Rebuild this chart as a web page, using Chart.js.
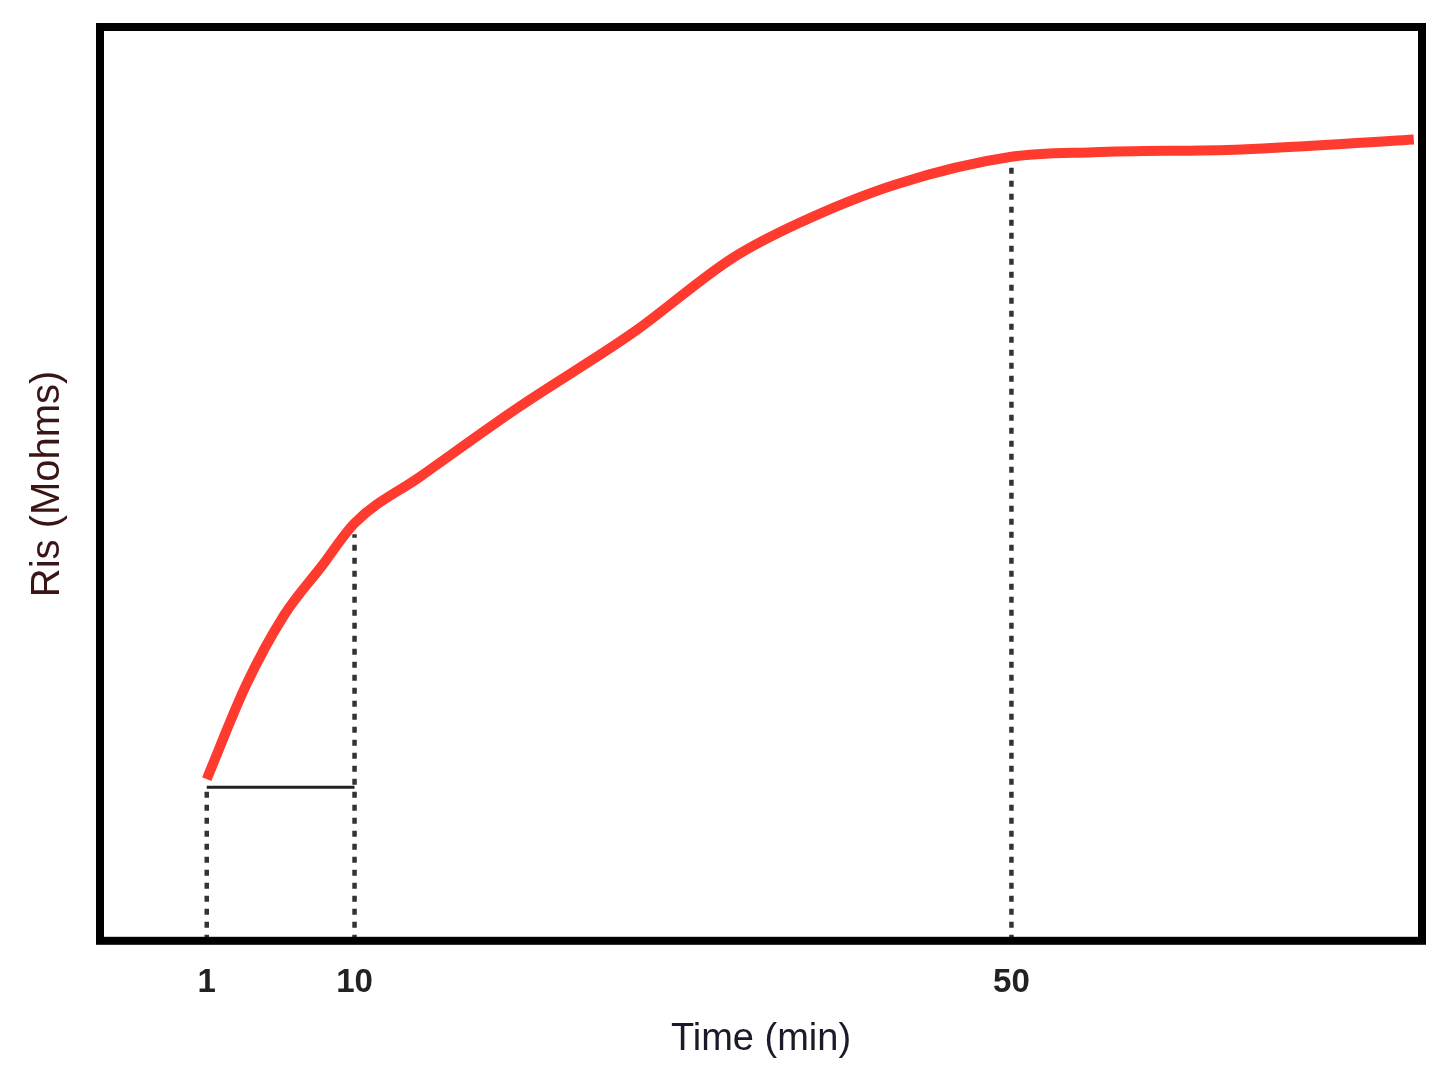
<!DOCTYPE html>
<html>
<head>
<meta charset="utf-8">
<script src="https://cdn.jsdelivr.net/npm/chart.js@4.4.0/dist/chart.umd.min.js"></script>
<style>
  html, body { margin: 0; padding: 0; background: #fff; }
  #wrap { width: 1437px; height: 1072px; }
</style>
</head>
<body>
<div id="wrap"><canvas id="risChart"></canvas></div>
<script>
// curva Ris x tempo (eixo y em unidades relativas)
const timeMin = [1, 3.4, 5.7, 8, 10, 14, 20, 27, 33, 37, 43, 50, 55, 64, 74.5];
const risValues = [17.7, 28, 35.6, 41, 45.7, 50.8, 58.4, 66.6, 74.7, 78.5, 82.8, 85.8, 86.3, 86.6, 87.7];
const tickTimes = [1, 10, 50];
const tickLabels = ["1", "10", "50"];
const markerTops = [16.8, 44.5, 85.2]; // topo das linhas pontilhadas
const baseLevel = 16.8; // linha horizontal entre 1 e 10 min

const curve = timeMin.map((t, i) => ({ x: t, y: risValues[i] }));

const dottedSets = tickTimes.map((t, i) => ({
  data: [{ x: t, y: 0 }, { x: t, y: markerTops[i] }],
  borderColor: "#333",
  borderWidth: 4.5,
  borderDash: [6, 7],
  pointRadius: 0,
  order: 3,
}));

const borderBox = {
  id: "borderBox",
  afterDraw(chart) {
    const { ctx, chartArea: a } = chart;
    ctx.save();
    ctx.strokeStyle = "#000";
    ctx.lineWidth = 8;
    ctx.strokeRect(a.left, a.top, a.right - a.left, a.bottom - a.top);
    ctx.restore();
  },
};

new Chart(document.getElementById("risChart"), {
  type: "line",
  data: {
    datasets: [
      {
        data: curve,
        borderColor: "#ff3b2f",
        borderWidth: 10,
        cubicInterpolationMode: "monotone",
        pointRadius: 0,
        order: 1,
      },
      {
        data: [{ x: tickTimes[0], y: baseLevel }, { x: tickTimes[1], y: baseLevel }],
        borderColor: "#222",
        borderWidth: 3,
        pointRadius: 0,
        order: 2,
      },
      ...dottedSets,
    ],
  },
  plugins: [borderBox],
  options: {
    responsive: true,
    maintainAspectRatio: false,
    animation: false,
    layout: { padding: { top: 27, right: 15, left: 20, bottom: 6 } },
    plugins: { legend: { display: false }, tooltip: { enabled: false } },
    scales: {
      x: {
        type: "linear",
        min: -5.5,
        max: 75,
        afterBuildTicks: (scale) => {
          scale.ticks = tickTimes.map((v) => ({ value: v }));
        },
        ticks: {
          color: "#222",
          font: { family: "Liberation Sans", size: 33, weight: "bold" },
          padding: 14,
          callback: (v) => tickLabels[tickTimes.indexOf(v)] ?? "",
          maxRotation: 0,
        },
        grid: { display: false },
        border: { display: false },
        title: {
          display: true,
          text: "Time (min)",
          color: "#1a1a2a",
          font: { family: "Liberation Sans", size: 38 },
          padding: { top: 0 },
        },
      },
      y: {
        min: 0,
        max: 100,
        ticks: { display: false },
        grid: { display: false },
        border: { display: false },
        title: {
          display: true,
          text: "Ris (Mohms)",
          color: "#3a1515",
          font: { family: "Liberation Sans", size: 40 },
          padding: { bottom: 20 },
        },
      },
    },
  },
});
</script>
</body>
</html>
